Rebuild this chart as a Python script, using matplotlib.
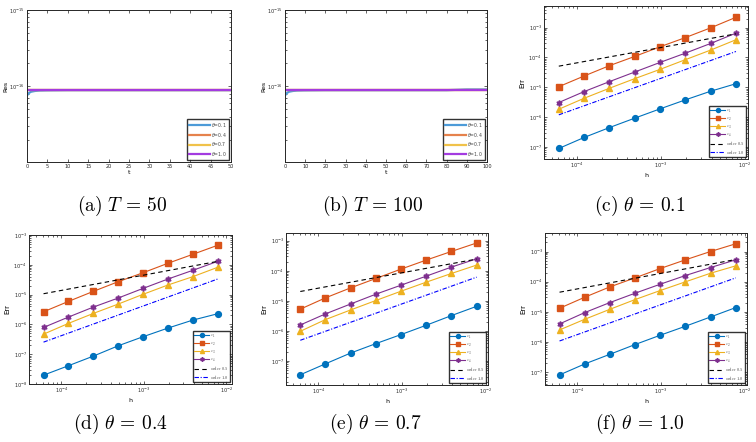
import numpy as np
import matplotlib
matplotlib.use("Agg")
import matplotlib.pyplot as plt
from matplotlib.ticker import LogLocator, NullFormatter, MultipleLocator

# ---------------- data ----------------
theta_labels = [r"$\theta$=0.1", r"$\theta$=0.4", r"$\theta$=0.7", r"$\theta$=1.0"]

t_a = [0, 0.5, 1, 2, 3, 5, 10, 20, 30, 40, 50]
res_a_01 = [7.6e-17, 8.2e-17, 8.5e-17, 8.7e-17, 8.8e-17, 8.85e-17, 8.9e-17, 8.9e-17, 8.9e-17, 8.9e-17, 8.9e-17]
res_a_04 = [8.9e-17, 8.9e-17, 8.9e-17, 8.9e-17, 8.9e-17, 8.9e-17, 8.9e-17, 8.9e-17, 8.9e-17, 8.9e-17, 8.9e-17]
res_a_07 = [8.9e-17, 8.9e-17, 8.9e-17, 8.9e-17, 8.9e-17, 8.9e-17, 8.9e-17, 8.9e-17, 8.9e-17, 8.9e-17, 8.9e-17]
res_a_10 = [8.9e-17, 8.9e-17, 8.9e-17, 8.9e-17, 8.9e-17, 8.9e-17, 8.9e-17, 8.9e-17, 8.9e-17, 8.9e-17, 8.9e-17]

t_b = [0, 1, 2, 4, 6, 10, 20, 40, 60, 80, 90, 100]
res_b_01 = [7.6e-17, 8.2e-17, 8.5e-17, 8.7e-17, 8.8e-17, 8.85e-17, 8.9e-17, 8.9e-17, 8.9e-17, 8.9e-17, 9.1e-17, 9.1e-17]
res_b_04 = [8.9e-17, 8.9e-17, 8.9e-17, 8.9e-17, 8.9e-17, 8.9e-17, 8.9e-17, 8.9e-17, 8.9e-17, 8.9e-17, 8.9e-17, 8.9e-17]
res_b_07 = [8.9e-17, 8.9e-17, 8.9e-17, 8.9e-17, 8.9e-17, 8.9e-17, 8.9e-17, 8.9e-17, 8.9e-17, 8.9e-17, 8.9e-17, 8.9e-17]
res_b_10 = [8.9e-17, 8.9e-17, 8.9e-17, 8.9e-17, 8.9e-17, 8.9e-17, 8.9e-17, 8.9e-17, 8.9e-17, 8.9e-17, 8.9e-17, 8.9e-17]

h = [1/16384, 1/8192, 1/4096, 1/2048, 1/1024, 1/512, 1/256, 1/128]
err_labels = [r"$e_1$", r"$e_2$", r"$e_3$", r"$e_4$", r"$\mathrm{order\ 0.5}$", r"$\mathrm{order\ 1.0}$"]

# theta = 0.1
c_e1 = [9.0e-8, 2.1e-7, 4.5e-7, 9.3e-7, 1.9e-6, 3.8e-6, 7.4e-6, 1.32e-5]
c_e2 = [1.05e-5, 2.39e-5, 5.3e-5, 1.08e-4, 2.27e-4, 4.6e-4, 9.75e-4, 2.2e-3]
c_e3 = [1.85e-6, 4.3e-6, 9.3e-6, 1.95e-5, 3.98e-5, 8.4e-5, 1.76e-4, 3.9e-4]
c_e4 = [3.1e-6, 7.2e-6, 1.55e-5, 3.25e-5, 6.8e-5, 1.39e-4, 2.93e-4, 6.5e-4]
c_ord05 = [5.1e-5, 6.15e-4]
c_ord10 = [1.2e-6, 1.58e-4]
# theta = 0.4
d_e1 = [1.98e-8, 4.1e-8, 8.6e-8, 1.91e-7, 3.85e-7, 7.5e-7, 1.39e-6, 2.27e-6]
d_e2 = [2.65e-6, 5.9e-6, 1.28e-5, 2.7e-5, 5.4e-5, 1.12e-4, 2.24e-4, 4.5e-4]
d_e3 = [4.7e-7, 1.08e-6, 2.33e-6, 4.8e-6, 1.02e-5, 2.09e-5, 3.98e-5, 8.2e-5]
d_e4 = [7.9e-7, 1.76e-6, 3.8e-6, 7.65e-6, 1.61e-5, 3.32e-5, 6.5e-5, 1.3e-4]
d_ord05 = [1.07e-5, 1.3e-4]
d_ord10 = [2.54e-7, 3.32e-5]
# theta = 0.7
e_e1 = [3.5e-8, 8.1e-8, 1.85e-7, 3.8e-7, 7.6e-7, 1.55e-6, 3.25e-6, 6.6e-6]
e_e2 = [5.3e-6, 1.26e-5, 2.71e-5, 5.55e-5, 1.14e-4, 2.27e-4, 4.4e-4, 8.4e-4]
e_e3 = [9.75e-7, 2.39e-6, 5.0e-6, 1.03e-5, 2.1e-5, 4.19e-5, 8.15e-5, 1.55e-4]
e_e4 = [1.58e-6, 3.7e-6, 7.9e-6, 1.67e-5, 3.33e-5, 6.65e-5, 1.33e-4, 2.5e-4]
e_ord05 = [2.05e-5, 2.45e-4]
e_ord10 = [4.9e-7, 6.15e-5]
# theta = 1.0
f_e1 = [8.2e-8, 1.89e-7, 3.95e-7, 8.3e-7, 1.69e-6, 3.35e-6, 6.8e-6, 1.39e-5]
f_e2 = [1.32e-5, 3.06e-5, 6.74e-5, 1.34e-4, 2.73e-4, 5.3e-4, 1.0e-3, 1.8e-3]
f_e3 = [2.53e-6, 5.7e-6, 1.22e-5, 2.56e-5, 5.1e-5, 9.9e-5, 1.91e-4, 3.35e-4]
f_e4 = [4.0e-6, 9.5e-6, 2.04e-5, 4.16e-5, 8.26e-5, 1.6e-4, 2.95e-4, 5.3e-4]
f_ord05 = [4.49e-5, 5.43e-4]
f_ord10 = [1.09e-6, 1.34e-4]

captions = [r"$\mathrm{(a)}\ T\,=\,50$", r"$\mathrm{(b)}\ T\,=\,100$", r"$\mathrm{(c)}\ \theta\,=\,0.1$",
            r"$\mathrm{(d)}\ \theta\,=\,0.4$", r"$\mathrm{(e)}\ \theta\,=\,0.7$", r"$\mathrm{(f)}\ \theta\,=\,1.0$"]

# ---------------- figure ----------------
W, H = 756, 442
fig = plt.figure(figsize=(W / 100, H / 100), dpi=100)
plt.rcParams['axes.linewidth'] = 0.6

def ax_at(l, t, r, b):
    return fig.add_axes([l / W, 1 - b / H, (r - l) / W, (b - t) / H])

TICKC = '#262626'

def style(ax):
    ax.tick_params(which='both', direction='in', top=True, right=True, labelsize=3.6,
                   colors=TICKC, width=0.5, pad=1.5)
    ax.tick_params(which='major', length=2.2)
    ax.tick_params(which='minor', length=1.2)
    for s in ax.spines.values():
        s.set_color('#262626')
        s.set_linewidth(0.7)

res_colors = ['#4D9BD8', '#E5824C', '#F0C24A', '#A33BE0']

def res_panel(ax, t, series, xmax, step):
    for y, c, lab in zip(series, res_colors, theta_labels):
        ax.plot(t, y, color=c, lw=1.6, label=lab)
    ax.set_yscale('log')
    ax.set_xlim(0, xmax)
    ax.set_ylim(1.02e-17, 1e-15)
    ax.set_yticks([1e-16, 1e-15])
    ax.yaxis.set_minor_locator(LogLocator(base=10, subs=np.arange(2, 10)))
    ax.yaxis.set_minor_formatter(NullFormatter())
    ax.xaxis.set_major_locator(MultipleLocator(step))
    style(ax)
    ax.set_xlabel('t', fontsize=4.5, labelpad=1)
    ax.set_ylabel('Res', fontsize=4.5, labelpad=1)
    leg = ax.legend(loc='lower right', fontsize=3.3, frameon=True, fancybox=False,
                    edgecolor='black', borderpad=0.4, handlelength=4.5, handletextpad=0.3,
                    labelspacing=0.35, borderaxespad=0.5)
    leg.get_frame().set_linewidth(1.0)
    for tx in leg.get_texts():
        tx.set_color('#444444')

err_colors = ['#0072BD', '#D95319', '#EDB120', '#7E2F8E']
err_markers = ['o', 's', '^', (6, 1, 0)]

def err_panel(ax, e_list, o05, o10, xlim, ylim):
    for y, c, m, lab in zip(e_list, err_colors, err_markers, err_labels[:4]):
        ax.plot(h, y, color=c, marker=m, ms=4.2, lw=0.8, label=lab, mec=c, mfc=c)
    ax.plot([h[0], h[-1]], o05, color='black', ls=(0, (4, 3)), lw=0.8, label=err_labels[4])
    ax.plot([h[0], h[-1]], o10, color='#0000FF', ls=(0, (4, 1.5, 1, 1.5)), lw=0.8, label=err_labels[5])
    ax.set_xscale('log')
    ax.set_yscale('log')
    ax.set_xlim(*xlim)
    ax.set_ylim(*ylim)
    ax.xaxis.set_major_locator(LogLocator(base=10, numticks=10))
    ax.xaxis.set_minor_locator(LogLocator(base=10, subs=np.arange(2, 10), numticks=20))
    ax.xaxis.set_minor_formatter(NullFormatter())
    ax.yaxis.set_major_locator(LogLocator(base=10, numticks=12))
    ax.yaxis.set_minor_locator(LogLocator(base=10, subs=np.arange(2, 10), numticks=20))
    ax.yaxis.set_minor_formatter(NullFormatter())
    style(ax)
    ax.set_xlabel('h', fontsize=4.5, labelpad=2)
    ax.set_ylabel('Err', fontsize=5, labelpad=2)
    leg = ax.legend(loc='lower right', fontsize=3.2, frameon=True, fancybox=False,
                    edgecolor='black', borderpad=0.3, handlelength=3.2, handletextpad=0.3,
                    labelspacing=0.15, borderaxespad=0.4, markerscale=0.7)
    leg.get_frame().set_linewidth(1.0)
    for tx in leg.get_texts():
        tx.set_math_fontfamily('cm')
        tx.set_color('#444444')

ax_a = ax_at(27, 10, 231, 162)
res_panel(ax_a, t_a, [res_a_01, res_a_04, res_a_07, res_a_10], 50, 5)
ax_b = ax_at(285, 10, 487, 162)
res_panel(ax_b, t_b, [res_b_01, res_b_04, res_b_07, res_b_10], 100, 10)

ax_c = ax_at(544, 6, 748, 159)
err_panel(ax_c, [c_e1, c_e2, c_e3, c_e4], c_ord05, c_ord10, (4.07e-5, 1.087e-2), (4.0e-8, 5.25e-3))
ax_d = ax_at(29, 235, 232, 384)
err_panel(ax_d, [d_e1, d_e2, d_e3, d_e4], d_ord05, d_ord10, (4.07e-5, 1.17e-2), (1e-8, 1e-3))
ax_e = ax_at(286, 233, 488, 385)
err_panel(ax_e, [e_e1, e_e2, e_e3, e_e4], e_ord05, e_ord10, (4.12e-5, 1.066e-2), (1.6e-8, 1.8e-3))
ax_f = ax_at(545, 233, 747, 385)
err_panel(ax_f, [f_e1, f_e2, f_e3, f_e4], f_ord05, f_ord10, (4.09e-5, 1.066e-2), (3.8e-8, 4.1e-3))

cap_pos = [(122, 206), (372, 206), (640, 206), (120, 424), (375, 424), (640, 424)]
for (x, y), cap in zip(cap_pos, captions):
    fig.text(x / W, 1 - y / H, cap, ha='center', va='center', fontsize=14, math_fontfamily='cm')

fig.savefig('out.png', dpi=100)
